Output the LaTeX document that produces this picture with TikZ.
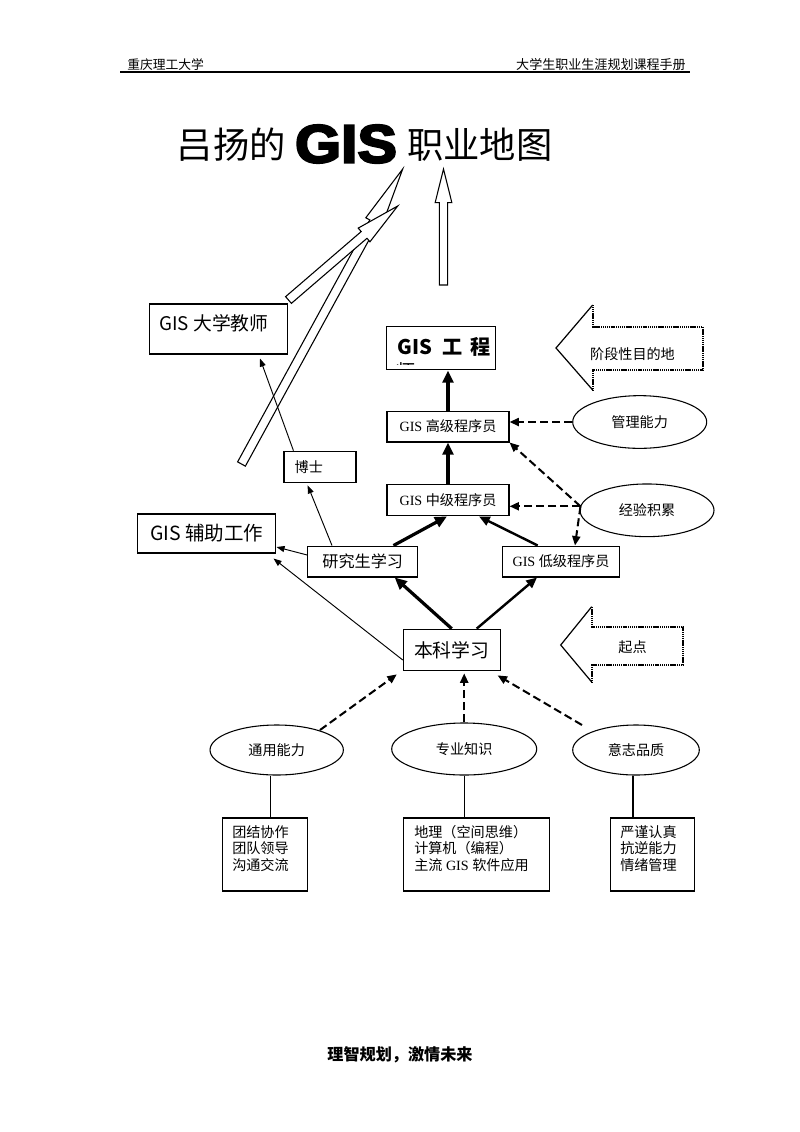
\documentclass[tikz,border=0pt]{standalone}
\usepackage{fontspec}
\setmainfont{Liberation Serif}
\newfontfamily\cjk{Noto Sans CJK SC}
\newfontfamily\heavy{Liberation Sans}[BoldFeatures={FakeBold=4}]
\usetikzlibrary{arrows.meta,calc,shapes.geometric}
\newcommand{\fsz}[2]{\fontsize{#1pt}{#2pt}\selectfont}
\tikzset{
	box/.style={draw, line width=0.8pt, inner sep=0pt},
	oval/.style={draw, ellipse, line width=0.8pt, inner sep=0pt},
	thinarr/.style={-{Triangle[length=6pt,width=4.5pt]}, line width=0.7pt},
	midarr/.style={-{Triangle[length=8pt,width=7pt]}, line width=1.8pt},
	boldarr/.style={-{Triangle[length=9pt,width=8pt]}, line width=2.4pt},
	dasharr/.style={-{Triangle[length=7pt,width=6pt]}, line width=1.5pt, dash pattern=on 6pt off 3pt},
	hollow/.style={draw, line width=0.8pt, fill=white},
	dotline/.style={line width=1.2pt, dash pattern=on 0.9pt off 0.5pt}
}
% hollow arrow: tail, tip, half shaft, half head, head length
\newcommand{\hollowarrow}[5]{%
	\coordinate (hb) at ($(#2)!#5!(#1)$);
	\draw[hollow] ($(#1)!#3!90:(#2)$) -- ($(hb)!#3!90:(#2)$) -- ($(hb)!#4!90:(#2)$) -- (#2)
		-- ($(hb)!#4!-90:(#2)$) -- ($(hb)!#3!-90:(#2)$) -- ($(#1)!#3!-90:(#2)$) -- cycle;
}

\begin{document}
\begin{tikzpicture}[x=0.744pt, y=-0.744pt]
	\useasboundingbox (0,0) rectangle (800,1132);
	\fill[white] (0,0) rectangle (800,1132);

	% Header
	\node[anchor=west, inner sep=0pt, font=\cjk\fsz{9.5}{11}] (school) at (127,65) {重庆理工大学};
	\node[anchor=east, inner sep=0pt, font=\cjk\fsz{9.7}{11}] (manual) at (686,65) {大学生职业生涯规划课程手册};
	\coordinate (ruleleft) at (120,72);	\coordinate (ruleright) at (690,72);
	\draw[line width=1.5pt] (ruleleft) -- (ruleright);

	% Title
	\node[inner sep=0pt, xscale=1.1, transform shape, font=\heavy\bfseries\fsz{40}{41}] (gis) at (346,144) {GIS};
	\node[anchor=east, inner sep=0pt, font=\cjk\fsz{27}{29}] (titleleft) at (286,145) {吕扬的};
	\node[anchor=west, inner sep=0pt, font=\cjk\fsz{27}{29}] (titleright) at (407,145) {职业地图};

	% Hollow arrows
	\coordinate (uptail) at (443.5,285);		\coordinate (uptip) at (443.5,169);
	\coordinate (longtail) at (241.5,464);	\coordinate (longtip) at (402.7,169);
	\coordinate (shorttail) at (288.5,300);	\coordinate (shorttip) at (397.7,206);
	\hollowarrow{uptail}{uptip}{3.1pt}{6.2pt}{25pt}
	\hollowarrow{longtail}{longtip}{3.3pt}{6.7pt}{45pt}
	\hollowarrow{shorttail}{shorttip}{3.3pt}{6.7pt}{33pt}

	% Boxes
	\node[box, minimum width=102.7pt, minimum height=37.2pt] (teacher) at (218.3,329) {};
	\node[inner sep=0pt, font=\cjk\fsz{14}{16}] (teachertxt) at (214,323) {GIS 大学教师};
	\node[box, minimum width=81.3pt, minimum height=32.2pt] (engineer) at (441.3,348.3) {};
	\node[anchor=west, inner sep=0pt, font=\cjk\bfseries\fsz{15}{17}] (engineertxt) at (397,347) {GIS\hspace{8pt}工\hspace{6pt}程};
	\begin{scope}
		\clip (engineer.north west) rectangle (496,364);
		\node[inner sep=0pt, font=\cjk\fsz{15}{17}] (engineertail) at (406,371.5) {师};
	\end{scope}
	\node[box, minimum width=90.8pt, minimum height=23pt, font=\fsz{10.5}{12}] (high) at (448,426.5) {GIS {\cjk 高级程序员}};
	\node[box, minimum width=90.8pt, minimum height=23.6pt, font=\fsz{10.5}{12}] (mid) at (448,500) {GIS {\cjk 中级程序员}};
	\node[box, minimum width=53.6pt, minimum height=23.6pt, inner xsep=8pt, text width=37.6pt, align=left, font=\cjk\fsz{10.5}{12}] (phd) at (320,467) {博士};
	\node[box, minimum width=102.9pt, minimum height=29pt, font=\cjk\fsz{14.5}{16}] (aux) at (206.8,533.5) {GIS 辅助工作};
	\node[box, minimum width=81.8pt, minimum height=23pt, font=\cjk\fsz{12}{14}] (grad) at (362.7,561.5) {研究生学习};
	\node[box, minimum width=87.3pt, minimum height=23pt, font=\fsz{10.5}{12}] (low) at (561,561.5) {GIS {\cjk 低级程序员}};
	\node[box, minimum width=72pt, minimum height=31pt, font=\cjk\fsz{14}{16}] (bachelor) at (451.7,650) {本科学习};

	% Ellipses
	\node[oval, minimum width=99.7pt, minimum height=39.2pt, font=\cjk\fsz{10.5}{12}] (mgmt) at (639.7,422) {管理能力};
	\node[oval, minimum width=99.7pt, minimum height=39.2pt, font=\cjk\fsz{10.5}{12}] (exp) at (647,510.3) {经验积累};
	\node[oval, minimum width=99.2pt, minimum height=37.2pt, font=\cjk\fsz{10.5}{12}] (gen) at (276.7,750) {通用能力};
	\node[oval, minimum width=107.9pt, minimum height=38.7pt, font=\cjk\fsz{10.5}{12}] (pro) at (464.2,749) {专业知识};
	\node[oval, minimum width=94.2pt, minimum height=37.2pt, font=\cjk\fsz{10.5}{12}] (will) at (636,750) {意志品质};

	% Bottom boxes
	\node[box, minimum width=63pt, minimum height=54.3pt] (team) at (265,854.5) {};
	\node[box, minimum width=108pt, minimum height=54.3pt] (know) at (476.5,854.5) {};
	\node[box, minimum width=62.7pt, minimum height=54.3pt] (trait) at (652.2,854.5) {};
	\node[anchor=north west, align=left, inner sep=0pt, font=\cjk\fsz{10.5}{12.3}] (teamtxt) at (232,825) {团结协作\\团队领导\\沟通交流};
	\node[anchor=north west, align=left, inner sep=0pt, font=\fsz{10.5}{12.3}] (knowtxt) at (414,825) {{\cjk 地理（空间思维）}\\{\cjk 计算机（编程）}\\{\cjk 主流} GIS {\cjk 软件应用}};
	\node[anchor=north west, align=left, inner sep=0pt, font=\cjk\fsz{10.5}{12.3}] (traittxt) at (620,825) {严谨认真\\抗逆能力\\情绪管理};

	% Big left arrows
	\coordinate (stagetip) at (556,348);
	\draw[line width=0.9pt] (592.7,305) -- (stagetip) -- (592.7,390);
	\draw[dotline] (592.7,305) -- (592.7,326.7) -- (702.7,326.7) -- (702.7,370) -- (592.7,370) -- (592.7,390);
	\node[inner sep=0pt, font=\cjk\fsz{10.5}{12}] (stagetxt) at (632.5,354) {阶段性目的地};
	\coordinate (starttip) at (560.7,645);
	\draw[line width=0.9pt] (591.7,606.7) -- (starttip) -- (591.7,682);
	\draw[dotline] (591.7,606.7) -- (591.7,626.7) -- (683,626.7) -- (683,665) -- (591.7,665) -- (591.7,682);
	\node[inner sep=0pt, font=\cjk\fsz{10.5}{12}] (starttxt) at (632.5,646.7) {起点};

	% Thin arrows
	\draw[thinarr] ($(phd.north west)+(10,0)$) -- ($(teacher.south)+(41.7,4)$);
	\draw[thinarr] ($(grad.north)+(-30.7,0)$) -- ($(phd.south)+(-12.3,2)$);
	\draw[thinarr] ($(grad.west)+(0,-6.5)$) -- ($(aux.east)+(0,13.5)$);
	\draw[thinarr] ($(bachelor.west)+(0,10)$) -- ($(aux.south east)+(-3,5)$);

	% Heavy arrows
	\draw[boldarr] (bachelor.north) -- ($(grad.south)+(32,0)$);
	\draw[midarr] ($(bachelor.north)+(25,0)$) -- ($(low.south)+(-24,0)$);
	\draw[boldarr] ($(grad.north)+(30.8,0)$) -- ($(mid.south)+(-1,0)$);
	\draw[midarr] ($(low.north)+(-23.3,0)$) -- ($(mid.south)+(31,0)$);
	\draw[boldarr] (mid.north) -- (high.south);
	\draw[boldarr] (high.north) -- (high.north |- engineer.south);

	% Dashed arrows
	\draw[dasharr] (mgmt.west) -- (mgmt.west -| high.east);
	\coordinate (expjoin) at ($(exp.west)+(1,-4)$);
	\draw[dasharr] (expjoin) -- (expjoin -| mid.east);
	\draw[dasharr] (expjoin) -- (high.south east);
	\draw[dasharr] (expjoin) -- ($(low.north)+(14,0)$);
	\draw[dasharr] ($(gen.center)+(43.3,-20)$) -- ($(bachelor.south west)+(-6,3)$);
	\draw[dasharr] (pro.north) -- ($(pro.north |- bachelor.south)+(0,2)$);
	\draw[dasharr] ($(will.center)+(-54,-25)$) -- ($(bachelor.south east)+(-3,4)$);

	% Verticals
	\draw[line width=0.8pt] ($(gen.south)+(-6,0)$) -- ($(gen.south |- team.north)+(-6,0)$);
	\draw[line width=0.8pt] (pro.south) -- (pro.south |- know.north);
	\draw[line width=0.8pt] ($(will.south)+(-3,0)$) -- ($(will.south |- trait.north)+(-3,0)$);

	% Footer
	\node[inner sep=0pt, font=\cjk\bfseries\fsz{12}{14}] (motto) at (400,1055) {理智规划，激情未来};
\end{tikzpicture}
\end{document}
